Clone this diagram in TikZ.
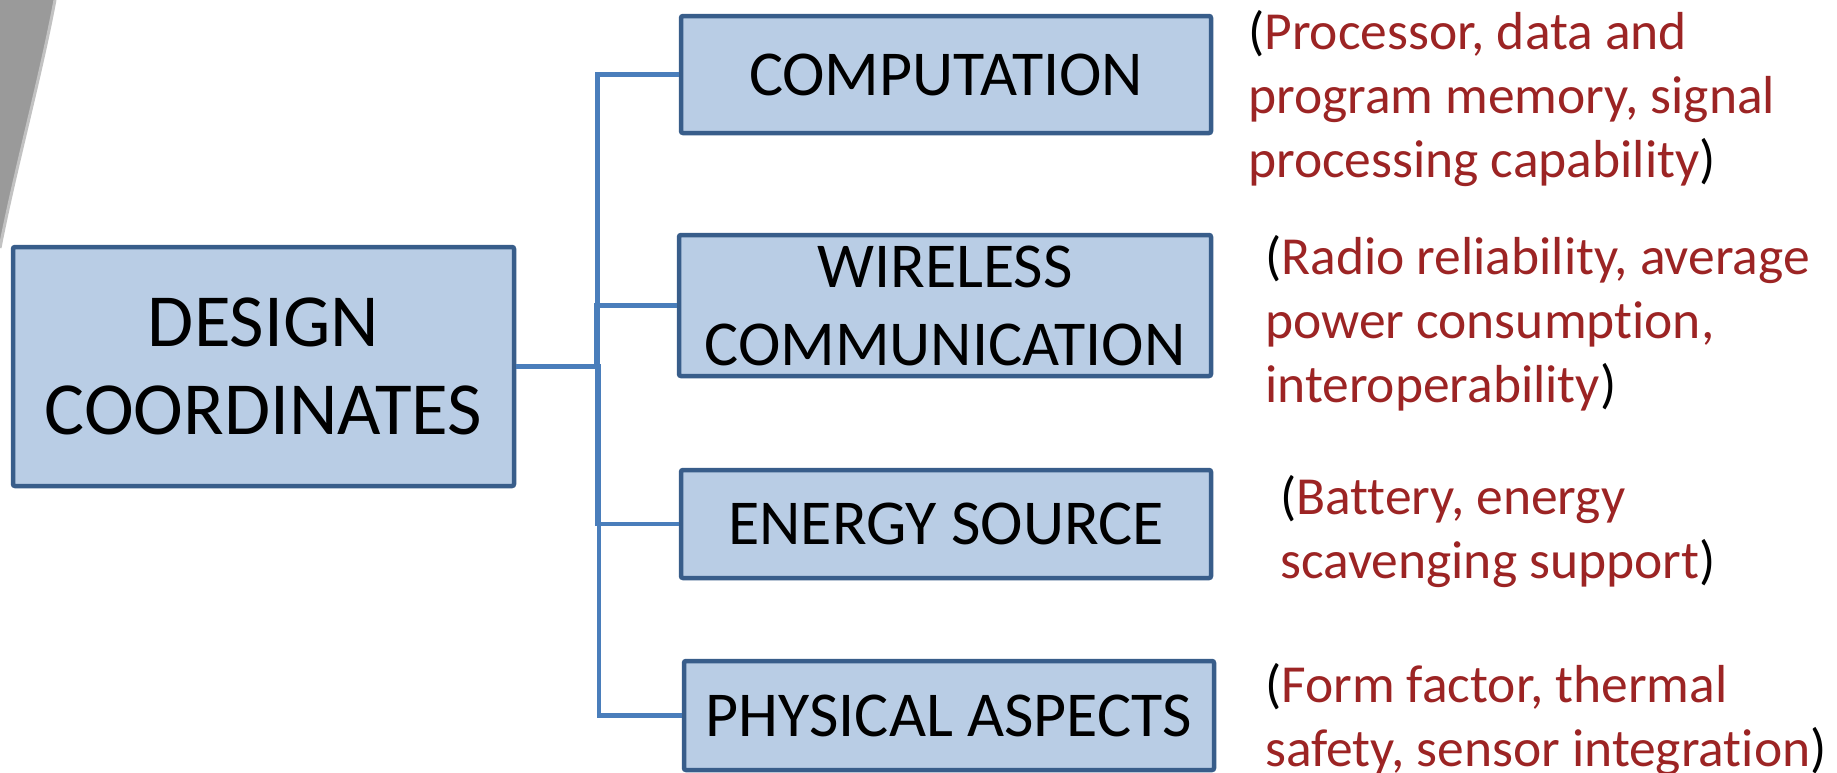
\documentclass[tikz,border=0pt]{standalone}
\usepackage{fontspec}
\setmainfont{Carlito}[Ligatures={NoCommon}]
\usetikzlibrary{calc}
\definecolor{boxfill}{HTML}{B9CDE5}
\definecolor{boxline}{HTML}{385D8A}
\definecolor{conline}{HTML}{4A7EBB}
\definecolor{notered}{HTML}{9C2424}
\definecolor{wedge}{HTML}{9A9A9A}
\tikzset{
  catbox/.style={draw=boxline, fill=boxfill, line width=4.5pt, rounded corners=2pt,
    inner sep=0pt, align=center, text=black, font=\fontsize{64}{78}\selectfont},
  rootbox/.style={catbox, font=\fontsize{75}{88}\selectfont},
  conn/.style={draw=conline, line width=4.5pt},
  note/.style={anchor=base west, inner sep=0pt, align=left, text=black,
    font=\fontsize{53.5}{64}\selectfont}
}
\newcommand{\rd}[1]{\textcolor{notered}{#1}}
\begin{document}
\begin{tikzpicture}[x=1pt,y=-1pt]
\useasboundingbox (0,0) rectangle (1837,772);
\fill[white] (0,0) rectangle (1837,772);
% gray wedge
\fill[wedge] (0,0) -- (55,0) .. controls (40,80) and (15,170) .. (0,248) -- cycle;
\draw[wedge!60, line width=3pt] (55,0) .. controls (40,80) and (15,170) .. (0,248);

\node[rootbox, minimum width=501pt, minimum height=239pt] (P) at (263.5,366.5) {DESIGN\\COORDINATES};
\node[catbox, minimum width=530pt, minimum height=117pt] (C1) at (946,74.5) {COMPUTATION};
\node[catbox, minimum width=532pt, minimum height=141pt] (C2) at (945,305.5) {WIRELESS\\COMMUNICATION};
\node[catbox, minimum width=530pt, minimum height=108pt] (C3) at (946,524) {ENERGY SOURCE};
\node[catbox, minimum width=530pt, minimum height=109pt] (C4) at (949,715.5) {PHYSICAL ASPECTS};

\foreach \c in {C1,C2,C3,C4}{
  \draw[conn] (P.east) -| ($(P.east)!0.5!(\c.west)$) |- (\c.west);
}

% base anchor = baseline of the last line
\node[note] (N1) at (1248,177) {(\rd{Processor, data and}\\\rd{program memory, signal}\\\rd{processing capability})};
\node[note] (N2) at (1265,402) {(\rd{Radio reliability, average}\\\rd{power consumption,}\\\rd{interoperability})};
\node[note] (N3) at (1280,578) {(\rd{Battery, energy}\\\rd{ scavenging support})};
\node[note] (N4) at (1265,766) {(\rd{Form factor, thermal}\\\rd{safety, sensor integration})};
\end{tikzpicture}
\end{document}
